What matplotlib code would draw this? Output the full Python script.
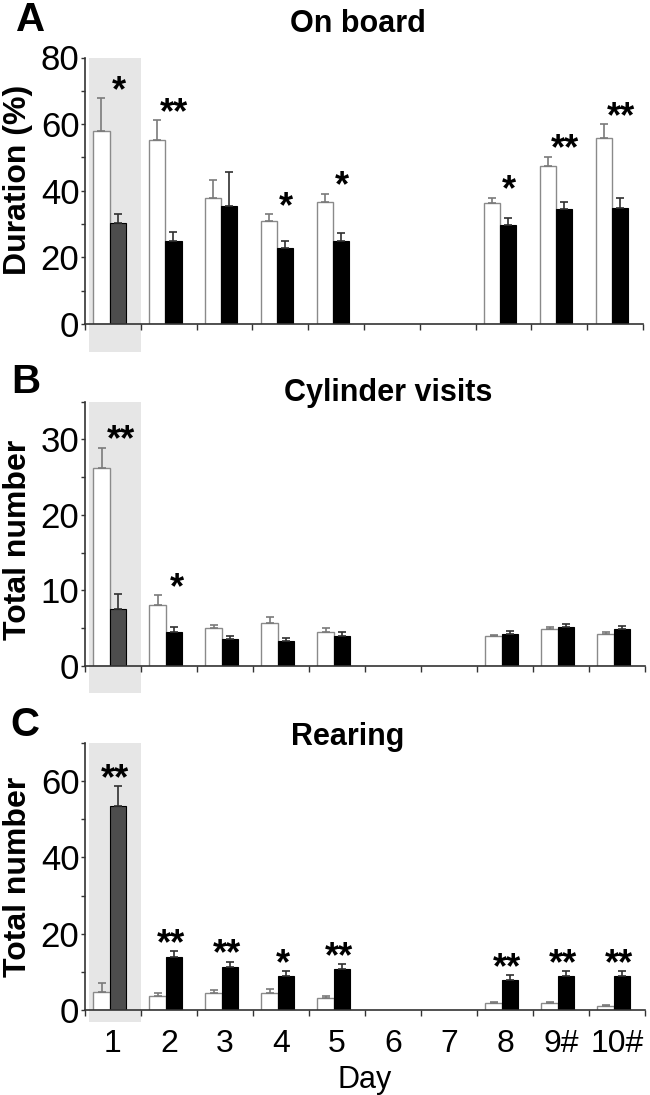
import matplotlib
matplotlib.use("Agg")
import matplotlib.pyplot as plt
import numpy as np
from matplotlib.patches import Rectangle
from matplotlib.transforms import blended_transform_factory

plt.rcParams['font.family'] = ['Liberation Sans', 'DejaVu Sans']

days = ["1", "2", "3", "4", "5", "6", "7", "8", "9#", "10#"]

# Panel A: On board, duration (%)
a_white = [58.0, 55.2, 37.9, 30.9, 36.6, 0, 0, 36.3, 47.3, 55.8]
a_white_err = [9.7, 6.0, 5.2, 2.0, 2.5, 0, 0, 1.6, 2.9, 4.1]
a_black = [30.2, 25.0, 35.4, 22.7, 25.0, 0, 0, 29.6, 34.6, 34.9]
a_black_err = [2.7, 2.7, 10.2, 2.1, 2.4, 0, 0, 2.1, 2.0, 2.9]
a_stars = ["*", "**", "", "*", "*", "", "", "*", "**", "**"]

# Panel B: Cylinder visits, total number
b_white = [26.2, 8.06, 5.02, 5.73, 4.49, 0, 0, 3.96, 4.93, 4.23]
b_white_err = [2.7, 1.28, 0.44, 0.75, 0.49, 0, 0, 0.09, 0.27, 0.31]
b_black = [7.58, 4.49, 3.57, 3.3, 4.0, 0, 0, 4.27, 5.2, 4.93]
b_black_err = [1.89, 0.71, 0.43, 0.4, 0.49, 0, 0, 0.4, 0.3, 0.4]
b_stars = ["**", "*", "", "", "", "", "", "", "", ""]

# Panel C: Rearing, total number
c_white = [4.8, 3.7, 4.4, 4.4, 3.1, 0, 0, 1.9, 1.9, 1.05]
c_white_err = [2.2, 0.7, 0.8, 1.1, 0.7, 0, 0, 0.3, 0.3, 0.15]
c_black = [53.4, 13.8, 11.3, 8.8, 10.8, 0, 0, 7.8, 8.8, 8.9]
c_black_err = [5.3, 1.6, 1.4, 1.4, 1.2, 0, 0, 1.3, 1.4, 1.2]
c_stars = ["**", "**", "**", "*", "**", "", "", "**", "**", "**"]

panels = [
    dict(letter="A", title="On board", ylabel="Duration (%)", white=a_white, werr=a_white_err,
         black=a_black, berr=a_black_err, stars=a_stars, ylim=80, major=[0, 20, 40, 60, 80],
         minor=[10, 30, 50, 70], pos=(85, 57.5, 643, 324), shade_below=28, star_x=0.1,
         title_xy=(358, 24), letter_xy=(31, 20), ylabel_y=180),
    dict(letter="B", title="Cylinder visits", ylabel="Total number", white=b_white, werr=b_white_err,
         black=b_black, berr=b_black_err, stars=b_stars, ylim=35, major=[0, 10, 20, 30],
         minor=[5, 15, 25, 35], pos=(85, 401.7, 645, 666), shade_below=27, star_x=0.15,
         title_xy=(388, 393), letter_xy=(26, 382), ylabel_y=540),
    dict(letter="C", title="Rearing", ylabel="Total number", white=c_white, werr=c_white_err,
         black=c_black, berr=c_black_err, stars=c_stars, ylim=70, major=[0, 20, 40, 60],
         minor=[10, 30, 50, 70], pos=(85, 743, 645, 1010), shade_below=12, star_x=0.03,
         title_xy=(348, 737), letter_xy=(25, 725), ylabel_y=877),
]

W, H = 650, 1095
fig = plt.figure(figsize=(W / 100, H / 100), dpi=100)

bw = 0.29
split = -0.06
x = np.arange(len(days)) + 0.5
spine_col = "#333333"

for k, p in enumerate(panels):
    l, t, r, b = p["pos"]
    ax = fig.add_axes([l / W, 1 - b / H, (r - l) / W, (b - t) / H])
    ax.set_xlim(0, len(days))
    ax.set_ylim(0, p["ylim"])
    # shaded region for day 1
    trans = blended_transform_factory(ax.transData, ax.transAxes)
    below = p["shade_below"] / (b - t)
    ax.add_patch(Rectangle((0.07, -below), 0.93, 1 + below, transform=trans,
                           facecolor="#e6e6e6", edgecolor="none", clip_on=False, zorder=0))
    wcols = np.array(["white"] * len(days))
    bcols = np.array(["#4d4d4d"] + ["black"] * (len(days) - 1))
    wv = np.array(p["white"]); bv = np.array(p["black"])
    we = np.array(p["werr"]); be = np.array(p["berr"])
    mask = wv > 0
    xw = x + split - bw / 2
    xb = x + split + bw / 2
    ax.bar(xw[mask], wv[mask], bw, color=wcols[mask], edgecolor="#8a8a8a",
           linewidth=1.0, zorder=2)
    ax.bar(xb[mask], bv[mask], bw, color=bcols[mask], edgecolor="black",
           linewidth=0.8, zorder=2)
    ax.errorbar(xw[mask], wv[mask], yerr=[np.zeros(mask.sum()), we[mask]], fmt="none",
                ecolor="#7a7a7a", elinewidth=1.2, capsize=3, capthick=1.2, zorder=3)
    ax.errorbar(xb[mask], bv[mask], yerr=[np.zeros(mask.sum()), be[mask]], fmt="none",
                ecolor="#303030", elinewidth=1.2, capsize=3, capthick=1.2, zorder=3)
    # significance stars
    for i, s in enumerate(p["stars"]):
        if s:
            top = max(wv[i] + we[i], bv[i] + be[i])
            ax.annotate(s, xy=(x[i] + p["star_x"], top), xytext=(0, -2), textcoords="offset points",
                        ha="center", va="baseline", fontsize=26, fontweight="bold", zorder=4)
    for sp in ["top", "right"]:
        ax.spines[sp].set_visible(False)
    for sp in ["left", "bottom"]:
        ax.spines[sp].set_color(spine_col)
        ax.spines[sp].set_linewidth(1.2)
    ax.set_yticks(p["major"])
    ax.set_yticks(p["minor"], minor=True)
    ax.tick_params(axis="y", which="both", length=3, width=1, color=spine_col, pad=1, labelsize=25)
    ax.set_xticks(np.arange(len(days) + 1))
    ax.set_xticklabels([])
    ax.set_xticks(x, minor=True)
    ax.tick_params(axis="x", which="major", length=4, width=1, color=spine_col)
    ax.tick_params(axis="x", which="minor", length=0, pad=14, labelsize=23)
    if k == 2:
        ax.set_xticklabels(days, minor=True)
        ax.set_xlabel("Day", fontsize=22, labelpad=4)
    else:
        ax.set_xticklabels([], minor=True)
    ax.patch.set_alpha(0)
    fig.text(p["title_xy"][0] / W, 1 - p["title_xy"][1] / H, p["title"], ha="center", va="center",
             fontsize=22, fontweight="bold")
    fig.text(p["letter_xy"][0] / W, 1 - p["letter_xy"][1] / H, p["letter"], ha="center", va="center",
             fontsize=29, fontweight="bold")
    fig.text(18 / W, 1 - p["ylabel_y"] / H, p["ylabel"], ha="center", va="center", rotation=90,
             fontsize=23, fontweight="bold")

fig.savefig("out.png", dpi=100)
